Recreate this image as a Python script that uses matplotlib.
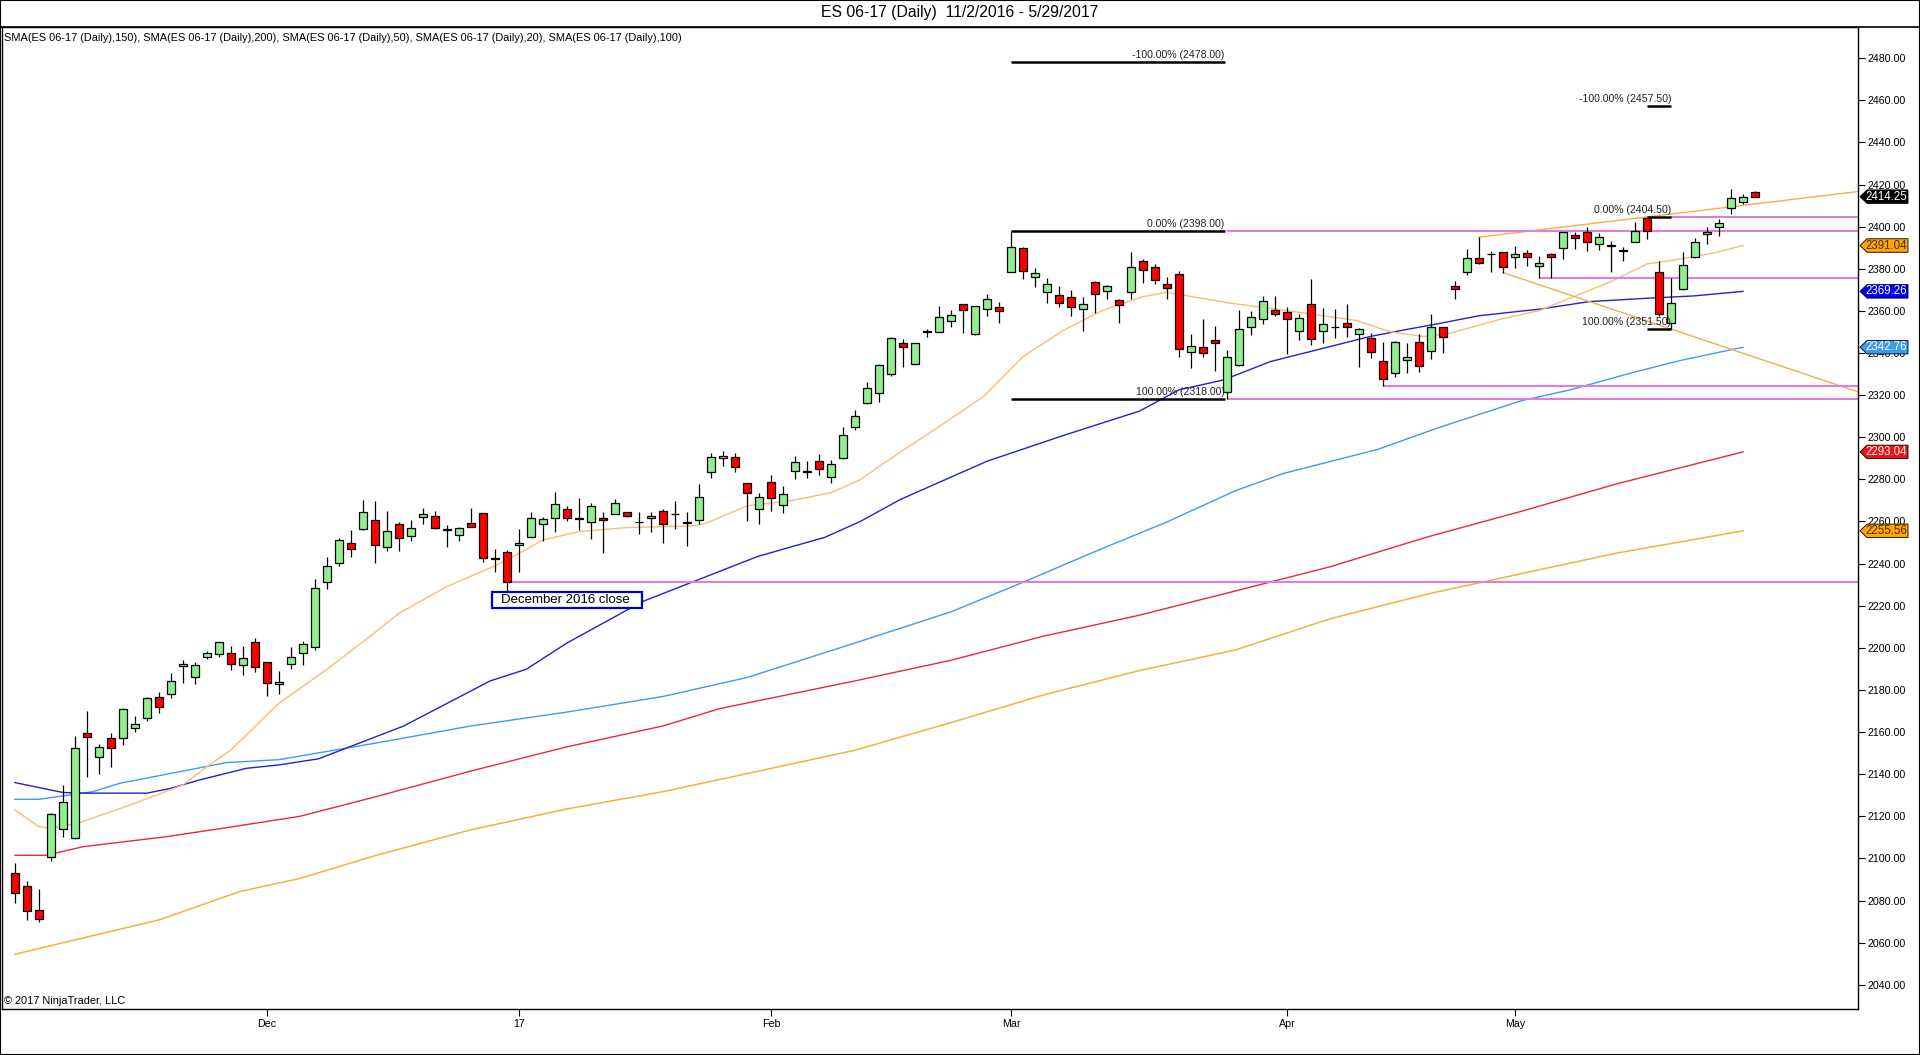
import numpy as np
import matplotlib
matplotlib.use('Agg')
import matplotlib.pyplot as plt
from matplotlib.patches import Rectangle, Polygon
from matplotlib.lines import Line2D
from matplotlib.transforms import blended_transform_factory

plt.rcParams['font.family'] = ['Liberation Sans', 'DejaVu Sans']

# daily OHLC, ES 06-17, 11/2/2016 .. 5/29/2017
opens = [2093.0, 2087.0, 2075.5, 2100.9, 2113.9, 2109.9, 2159.4, 2148.0, 2157.1, 2157.1,
         2161.8, 2166.6, 2176.8, 2177.9, 2191.4, 2186.0, 2195.6, 2197.1, 2197.4, 2191.7,
         2202.6, 2193.3, 2182.9, 2192.2, 2197.4, 2200.6, 2231.4, 2240.2, 2249.7, 2256.3,
         2260.7, 2247.8, 2258.7, 2253.1, 2262.0, 2262.6, 2255.9, 2253.5, 2259.2, 2263.9,
         2242.2, 2245.6, 2248.7, 2252.8, 2258.7, 2261.5, 2265.8, 2261.3, 2259.9, 2261.7,
         2263.7, 2264.4, 2259.6, 2261.5, 2264.9, 2263.4, 2259.4, 2260.6, 2283.4, 2290.0,
         2290.5, 2278.2, 2265.8, 2278.6, 2267.7, 2283.9, 2283.6, 2288.9, 2281.0, 2290.3,
         2304.7, 2316.1, 2320.9, 2329.9, 2344.9, 2334.7, 2350.0, 2349.9, 2355.1, 2363.4,
         2349.1, 2360.8, 2361.7, 2378.3, 2389.7, 2376.0, 2368.8, 2367.4, 2366.8, 2360.8,
         2373.6, 2369.3, 2365.1, 2368.8, 2383.6, 2380.7, 2372.6, 2377.4, 2340.4, 2342.7,
         2346.2, 2321.4, 2334.5, 2352.2, 2356.0, 2360.3, 2359.4, 2350.6, 2363.1, 2350.3,
         2352.2, 2354.1, 2348.9, 2347.2, 2336.1, 2330.7, 2336.6, 2345.1, 2340.8, 2352.2,
         2371.7, 2378.3, 2385.0, 2386.9, 2388.1, 2385.8, 2387.3, 2381.5, 2386.9, 2390.0,
         2396.1, 2397.6, 2391.6, 2391.0, 2388.6, 2392.6, 2404.0, 2378.3, 2354.1, 2370.3,
         2385.8, 2396.3, 2400.0, 2408.7, 2411.9, 2416.3]
highs = [2097.7, 2089.3, 2085.5, 2121.4, 2134.9, 2158.2, 2170.0, 2154.4, 2159.4, 2171.3,
         2167.7, 2176.8, 2178.9, 2187.9, 2194.2, 2193.4, 2198.5, 2202.9, 2200.9, 2200.9,
         2204.6, 2193.3, 2189.0, 2200.6, 2203.4, 2232.7, 2243.3, 2252.0, 2256.0, 2270.2,
         2269.8, 2265.0, 2259.6, 2260.7, 2266.3, 2265.1, 2258.4, 2257.3, 2266.3, 2263.9,
         2246.9, 2246.5, 2256.4, 2264.5, 2262.3, 2274.0, 2267.4, 2271.0, 2268.7, 2264.4,
         2270.6, 2264.7, 2264.4, 2264.4, 2266.1, 2269.8, 2264.4, 2277.7, 2292.5, 2293.5,
         2292.5, 2278.2, 2273.4, 2282.1, 2276.9, 2291.1, 2288.7, 2292.1, 2289.2, 2304.7,
         2313.0, 2326.3, 2334.8, 2347.8, 2346.5, 2344.9, 2351.3, 2362.3, 2360.4, 2363.4,
         2362.5, 2368.0, 2364.2, 2398.0, 2390.2, 2380.2, 2375.5, 2371.8, 2369.9, 2366.5,
         2374.2, 2372.3, 2365.5, 2388.0, 2384.5, 2382.3, 2376.0, 2379.0, 2349.1, 2356.3,
         2352.8, 2341.5, 2360.4, 2360.0, 2367.1, 2367.1, 2361.7, 2358.4, 2375.2, 2361.5,
         2360.9, 2363.2, 2351.8, 2349.7, 2345.3, 2345.9, 2344.6, 2349.1, 2358.5, 2352.5,
         2374.4, 2389.3, 2395.0, 2388.6, 2388.1, 2390.8, 2388.9, 2386.1, 2387.7, 2397.6,
         2397.6, 2400.0, 2396.9, 2393.4, 2390.5, 2402.1, 2404.5, 2383.7, 2375.5, 2388.1,
         2394.5, 2399.7, 2403.7, 2417.8, 2415.5, 2417.0]
lows = [2078.7, 2070.8, 2070.0, 2099.0, 2110.3, 2109.4, 2138.8, 2140.0, 2143.6, 2153.9,
        2160.2, 2165.4, 2168.9, 2176.1, 2183.2, 2182.9, 2194.6, 2195.8, 2189.5, 2187.3,
        2188.7, 2177.3, 2178.1, 2190.0, 2191.9, 2199.0, 2228.0, 2239.0, 2243.3, 2256.0,
        2240.2, 2246.1, 2246.1, 2250.8, 2258.8, 2256.5, 2248.0, 2250.9, 2257.3, 2240.6,
        2236.2, 2224.8, 2236.2, 2252.8, 2250.9, 2255.2, 2260.4, 2256.0, 2251.8, 2245.2,
        2263.4, 2262.0, 2254.1, 2255.2, 2250.0, 2256.6, 2248.4, 2258.8, 2280.8, 2286.5,
        2283.7, 2260.0, 2258.8, 2265.1, 2263.9, 2280.1, 2280.5, 2282.1, 2278.2, 2289.8,
        2303.6, 2315.8, 2316.6, 2329.1, 2333.5, 2334.3, 2347.5, 2349.9, 2352.5, 2349.7,
        2348.6, 2357.7, 2354.4, 2378.3, 2375.0, 2371.2, 2363.9, 2361.7, 2357.7, 2350.6,
        2358.9, 2365.5, 2354.4, 2365.7, 2373.4, 2372.6, 2365.5, 2338.3, 2332.8, 2338.3,
        2331.6, 2318.0, 2334.0, 2348.7, 2353.8, 2357.7, 2339.6, 2346.2, 2343.8, 2344.9,
        2347.0, 2347.5, 2333.2, 2337.5, 2324.5, 2328.8, 2330.4, 2331.1, 2337.0, 2340.2,
        2365.7, 2377.1, 2382.1, 2378.6, 2378.2, 2380.2, 2381.5, 2375.5, 2375.8, 2384.7,
        2389.4, 2388.5, 2388.9, 2378.6, 2383.9, 2392.6, 2394.0, 2357.7, 2351.5, 2369.9,
        2385.0, 2391.8, 2395.7, 2405.9, 2410.8, 2414.2]
closes = [2083.8, 2075.2, 2071.1, 2121.1, 2126.8, 2152.3, 2157.8, 2152.8, 2152.3, 2170.8,
          2163.7, 2176.1, 2171.8, 2184.1, 2192.4, 2191.7, 2197.4, 2202.9, 2192.2, 2195.0,
          2191.1, 2183.2, 2183.8, 2195.6, 2201.7, 2228.3, 2238.9, 2251.2, 2246.8, 2264.4,
          2248.7, 2255.5, 2252.0, 2256.8, 2263.6, 2257.1, 2255.9, 2256.8, 2257.6, 2242.5,
          2242.2, 2231.4, 2249.7, 2261.5, 2261.1, 2268.2, 2261.8, 2261.3, 2267.2, 2260.6,
          2269.0, 2262.8, 2259.6, 2262.8, 2258.7, 2263.4, 2259.4, 2271.5, 2290.5, 2291.0,
          2285.8, 2273.4, 2271.8, 2271.3, 2272.9, 2288.1, 2283.6, 2284.8, 2287.3, 2300.9,
          2310.1, 2323.3, 2334.2, 2347.0, 2342.7, 2344.6, 2350.0, 2357.0, 2357.9, 2360.3,
          2362.2, 2365.5, 2359.8, 2390.2, 2378.8, 2377.9, 2372.6, 2363.6, 2361.7, 2363.1,
          2368.2, 2371.7, 2362.7, 2380.7, 2379.3, 2374.5, 2370.8, 2341.8, 2343.4, 2339.9,
          2344.6, 2338.0, 2351.4, 2357.0, 2364.7, 2358.7, 2356.0, 2356.5, 2346.5, 2353.7,
          2352.2, 2352.5, 2351.3, 2340.4, 2327.5, 2345.1, 2338.0, 2333.9, 2352.2, 2347.5,
          2370.4, 2385.0, 2382.6, 2386.9, 2380.7, 2386.9, 2385.8, 2382.6, 2385.8, 2397.6,
          2394.8, 2392.9, 2395.3, 2391.0, 2388.6, 2398.1, 2398.1, 2358.4, 2363.6, 2381.6,
          2392.6, 2397.3, 2401.6, 2413.5, 2414.0, 2414.25]

month_pos = [21, 42, 63, 83, 106, 125]
month_labels = ['Dec', '17', 'Feb', 'Mar', 'Apr', 'May']

# moving averages, sampled along the curves (bar index, value)
sma20_idx = [0, 2, 3, 5.4, 10, 14, 16, 18, 22, 26, 30, 32, 36, 40, 42, 44, 47, 51, 56.5, 57.6,
             61, 65, 68, 70.4, 73, 77, 80.7, 84, 87.4, 90.7, 94, 96, 101, 104.6, 108.5, 111.8,
             114.6, 117.4, 119.6, 123.75, 127, 133, 136, 138, 141.5, 144]
sma20_val = [2123.0, 2115.1, 2114.3, 2117.0, 2126.2, 2134.9, 2143.6, 2151.5, 2173.7, 2189.8,
             2207.3, 2216.4, 2229.1, 2238.9, 2244.9, 2251.2, 2255.2, 2257.1, 2257.9, 2259.2,
             2267.4, 2270.2, 2273.7, 2279.7, 2290.0, 2305.0, 2319.3, 2338.3, 2350.9, 2360.4,
             2366.8, 2368.8, 2363.9, 2361.2, 2358.1, 2355.4, 2350.1, 2347.8, 2349.4, 2356.0,
             2360.1, 2373.9, 2382.3, 2383.9, 2387.4, 2391.04]
sma50_idx = [0, 4, 6, 11, 13, 15.4, 19.3, 22, 25.3, 32.4, 39.6, 42.6, 46, 52.3, 57.1, 61.9,
             67.5, 70.4, 73.8, 81, 87.4, 93.7, 97, 100.7, 104.6, 108.5, 112.9, 115.7, 118.5,
             122, 127, 131.2, 136, 139.9, 144]
sma50_val = [2136.0, 2131.3, 2131.0, 2131.0, 2133.3, 2137.3, 2142.8, 2144.4, 2147.3, 2162.9,
             2184.3, 2189.8, 2202.3, 2222.0, 2232.7, 2243.4, 2252.5, 2259.9, 2270.5, 2288.6,
             2300.9, 2312.4, 2322.5, 2327.2, 2335.9, 2341.5, 2347.8, 2350.9, 2353.8, 2357.7,
             2360.8, 2364.4, 2366.0, 2367.1, 2369.26]
sma100_idx = [0, 2, 6.5, 8.75, 13.75, 17.6, 22, 30, 38, 46, 54, 61, 70, 78, 84, 89.7, 96,
              101.7, 105.7, 113.6, 118.5, 125.5, 129.6, 134.6, 138.75, 144]
sma100_val = [2128.1, 2128.1, 2131.7, 2135.7, 2141.2, 2145.5, 2146.9, 2154.7, 2162.9, 2169.5,
              2176.9, 2185.9, 2202.3, 2217.1, 2231.1, 2245.0, 2259.8, 2274.6, 2282.8, 2294.3,
              2304.3, 2317.3, 2322.5, 2330.4, 2336.4, 2342.76]
sma150_idx = [0, 2.6, 5.7, 12.6, 18.2, 23.75, 30, 38, 46, 54, 58.7, 70, 78, 85.75, 93.7,
              101.7, 109.6, 117.6, 125.5, 133.5, 144]
sma150_val = [2101.5, 2101.5, 2105.6, 2110.3, 2115.1, 2120.0, 2129.2, 2141.5, 2153.0, 2162.9,
              2171.1, 2184.3, 2194.1, 2205.6, 2215.5, 2227.0, 2238.5, 2252.5, 2264.8, 2277.9,
              2293.04]
sma200_idx = [0, 5, 12, 18.75, 23.75, 30, 38, 46, 54, 62, 70, 78, 85.75, 93.7, 101.7, 109.6,
              117.6, 125.5, 133.5, 144]
sma200_val = [2054.5, 2061.3, 2070.8, 2084.3, 2090.5, 2101.3, 2113.6, 2123.5, 2131.7, 2141.5,
              2151.4, 2164.5, 2177.7, 2189.2, 2199.0, 2213.8, 2225.4, 2235.2, 2245.0, 2255.56]

# drawing objects
fib1_span = [83, 100.8]
fib1_levels = [2478.0, 2398.0, 2318.0]
fib1_text = ['-100.00% (2478.00)', '0.00% (2398.00)', '100.00% (2318.00)']
fib2_span = [136, 138]
fib2_levels = [2457.5, 2404.5, 2351.5]
fib2_text = ['-100.00% (2457.50)', '0.00% (2404.50)', '100.00% (2351.50)']
hline_start = [41, 101, 101, 114, 127, 138]
hline_price = [2231.4, 2398.0, 2318.0, 2324.5, 2375.5, 2404.5]
trend_up_x = [122, 153.6]
trend_up_y = [2395.0, 2416.7]
trend_dn_x = [124, 153.6]
trend_dn_y = [2378.2, 2321.5]

flag_price = [2414.25, 2391.04, 2369.26, 2342.76, 2293.04, 2255.56]
flag_bg = ['black', '#FFA500', '#0000F0', '#3C9BF0', '#EE1111', '#FFA500']
flag_fg = ['white', '#4a2a00', 'white', 'white', 'white', '#4a2a00']

W, H = 1920, 1055
fig = plt.figure(figsize=(W / 100, H / 100), dpi=100)
ax = fig.add_axes([2 / W, 1 - 1009 / H, 1855.5 / W, 982 / H])
xmin, xmax = -1.08, 153.54
ymin, ymax = 2028.5, 2494.8
ax.set_xlim(xmin, xmax)
ax.set_ylim(ymin, ymax)

# moving averages
ax.plot(sma200_idx, sma200_val, color='#F2B33D', lw=1.1, zorder=2)
ax.plot(sma150_idx, sma150_val, color='#E8283C', lw=1.0, zorder=2)
ax.plot(sma100_idx, sma100_val, color='#3C9BF0', lw=1.0, zorder=2)
ax.plot(sma50_idx, sma50_val, color='#2222C8', lw=1.0, zorder=2)
ax.plot(sma20_idx, sma20_val, color='#F4BE78', lw=1.0, zorder=2)

# horizontal levels
for s, p in zip(hline_start, hline_price):
    ax.plot([s, xmax], [p, p], color='#E07EE0', lw=1.5, zorder=2.2, solid_capstyle='butt')

# trend lines
ax.plot(trend_up_x, trend_up_y, color='#F2AE4C', lw=1.0, zorder=2.1)
ax.plot(trend_dn_x, trend_dn_y, color='#F2AE4C', lw=1.0, zorder=2.1)

# fibonacci lines
for span, levels, texts in [(fib1_span, fib1_levels, fib1_text), (fib2_span, fib2_levels, fib2_text)]:
    for lv, tx in zip(levels, texts):
        ax.plot(span, [lv, lv], color='black', lw=1.8, zorder=2.5, solid_capstyle='butt')
        ax.text(span[1], lv + 0.9, tx, ha='right', va='bottom', fontsize=7.6, color='#222222', zorder=6)

# candles
x = np.arange(len(opens))
o = np.array(opens)
c = np.array(closes)
body_col = np.where(c > o, '#90EE90', np.where(c < o, '#FF0000', 'black'))
ax.vlines(x, lows, highs, color='black', lw=0.9, zorder=3)
ax.bar(x, np.maximum(np.abs(c - o), 0.3), bottom=np.minimum(o, c), width=0.68,
       color=body_col, edgecolor='black', linewidth=0.9, zorder=4)

# December close label
ax.add_patch(Rectangle((39.75, 2218.9), 12.5, 7.6, fc='white', ec='#0000C8', lw=1.6, zorder=5))
ax.text(40.5, 2222.6, 'December 2016 close', ha='left', va='center', fontsize=9.5, zorder=6)

# axes styling
for sp in ['left', 'bottom', 'right', 'top']:
    ax.spines[sp].set_linewidth(1.0)
ax.yaxis.tick_right()
ax.set_yticks(np.arange(2040, 2481, 20))
ax.set_yticklabels(['%.2f' % v for v in np.arange(2040, 2481, 20)])
ax.tick_params(axis='y', direction='out', length=5, width=0.8, labelsize=7.7, pad=2)
ax.set_xticks(month_pos)
ax.set_xticklabels(month_labels)
ax.tick_params(axis='x', direction='out', length=5, width=0.8, labelsize=7.7, pad=2)

# price flags on the axis
tr = blended_transform_factory(fig.transFigure, ax.transData)
hh = 6.4 / 2
x0, xa, x1 = 1860 / W, 1867 / W, 1908 / W
for p, bg, fg in zip(flag_price, flag_bg, flag_fg):
    poly = Polygon([(x0, p), (xa, p + hh), (x1, p + hh), (x1, p - hh), (xa, p - hh)],
                   closed=True, transform=tr, fc=bg, ec='black', lw=0.6, clip_on=False, zorder=10)
    ax.add_patch(poly)
    ax.text((x0 + x1) / 2 + 2 / W, p, '%.2f' % p, transform=tr, ha='center', va='center',
            fontsize=8.3, color=fg, clip_on=False, zorder=11)

# texts
fig.text(0.5, 1 - 13 / H, 'ES 06-17 (Daily)  11/2/2016 - 5/29/2017', ha='center', va='center', fontsize=11.3)
ax.text(0.001, 1 - 11 / 982,
        'SMA(ES 06-17 (Daily),150), SMA(ES 06-17 (Daily),200), SMA(ES 06-17 (Daily),50), '
        'SMA(ES 06-17 (Daily),20), SMA(ES 06-17 (Daily),100)',
        transform=ax.transAxes, ha='left', va='center', fontsize=7.9)
ax.text(0.001, 0.003, '\u00a9 2017 NinjaTrader, LLC', transform=ax.transAxes, ha='left', va='bottom', fontsize=7.9)

# frame lines
fig.add_artist(Line2D([0, 1], [1 - 27 / H, 1 - 27 / H], transform=fig.transFigure, color='black', lw=1.2))
fig.add_artist(Rectangle((0, 0), 1, 1, transform=fig.transFigure, fill=False, ec='black', lw=1.5))

fig.savefig('out.png', dpi=100)
